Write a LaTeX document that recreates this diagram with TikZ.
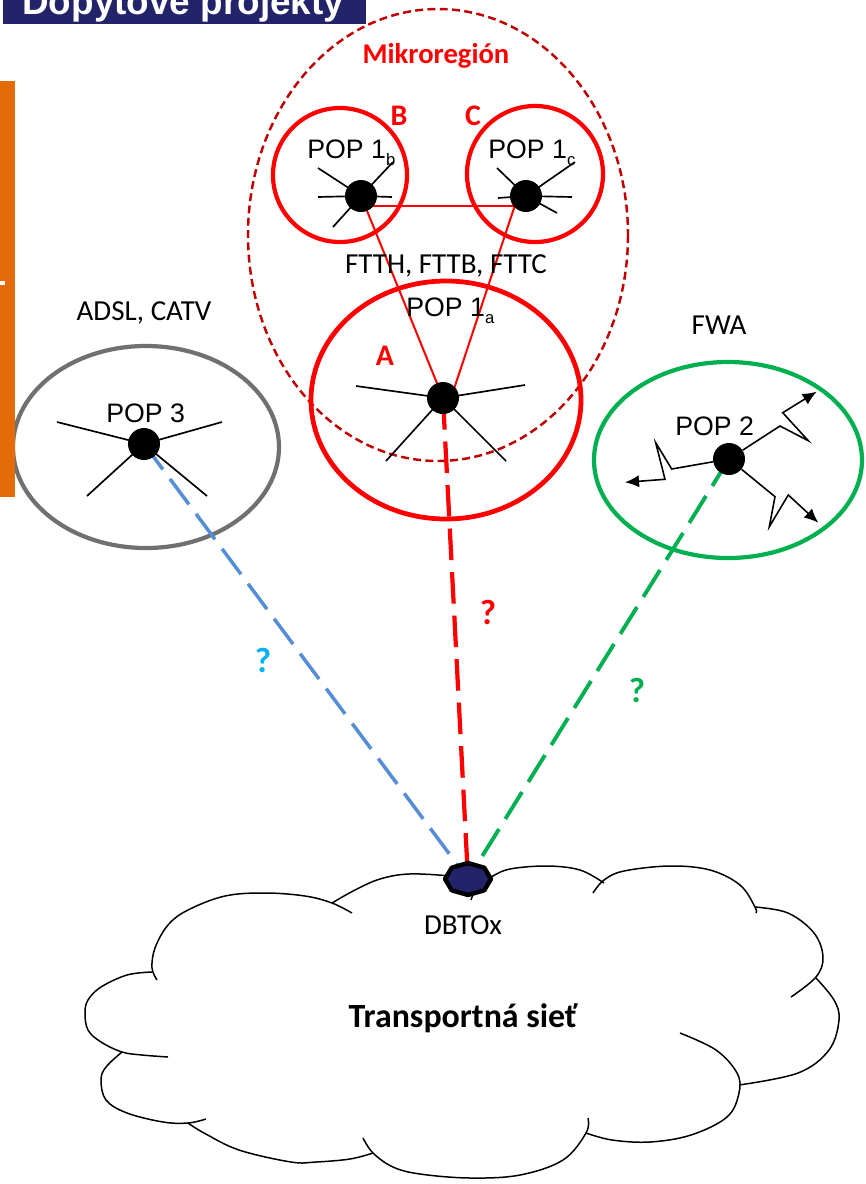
\documentclass[tikz,border=0pt]{standalone}
\usepackage{fontspec}
\setmainfont{Liberation Sans}
\newfontfamily\calfont{Carlito}
\usetikzlibrary{shapes.geometric,arrows.meta,calc,backgrounds}
\definecolor{navy}{RGB}{35,35,105}
\definecolor{orng}{RGB}{227,108,9}
\definecolor{dred}{RGB}{192,0,0}
\definecolor{pred}{RGB}{255,0,0}
\definecolor{pgreen}{RGB}{0,176,80}
\definecolor{pgray}{RGB}{112,112,112}
\definecolor{lblue}{RGB}{85,142,213}
\definecolor{qblue}{RGB}{0,176,240}
\tikzset{
  popdot/.style={circle, fill=black, inner sep=0pt, minimum size=0.64cm},
  spoke/.style={black, line width=0.95pt},
  poptext/.style={font=\fontsize{15.2}{18}\selectfont, inner sep=0pt, anchor=base west},
  caltext/.style={font=\calfont\fontsize{16.5}{20}\selectfont, inner sep=0pt, anchor=base},
  redbold/.style={font=\calfont\bfseries\fontsize{17}{20}\selectfont, text=pred, inner sep=0pt},
  qmark/.style={font=\calfont\bfseries\fontsize{20}{24}\selectfont, inner sep=0pt},
  zone/.style={line width=2.4pt},
  conn/.style={dash pattern=on 18pt off 6.8pt},
  zig/.style={black, line width=0.9pt, line join=miter, -{Latex[length=8pt,width=7pt]}},
  cloudline/.style={black, line width=0.85pt},
  redlink/.style={pred, line width=1.15pt},
}
\newcommand{\subx}[1]{\raisebox{-4.5pt}{\fontsize{9.5}{10}\selectfont #1}}
\begin{document}
\begin{tikzpicture}[x=0.02cm, y=-0.02cm]
\useasboundingbox (0,0) rectangle (866,1184);
% header and side bar
\fill[navy] (3,-30) rectangle (366,24);
\node[font=\bfseries\fontsize{21}{24}\selectfont, text=white, anchor=base west, inner sep=0pt] (header) at (22,14) {Dopytové projekty};
\fill[orng] (0,81) rectangle (15,497);
\fill[white] (0,281) rectangle (4.5,285);

% dots
\node[popdot] (dotB) at (361,196) {};
\node[popdot] (dotC) at (526,196) {};
\node[popdot] (dotA) at (443,398) {};
\node[popdot] (dot3) at (144,444) {};
\node[popdot] (dot2) at (729,459) {};
\node[ellipse, inner sep=0pt, minimum width=0.92cm, minimum height=0.64cm] (dbto) at (468,879) {};

\begin{pgfonlayer}{background}
  % zones
  \draw[dred, line width=1.4pt, dash pattern=on 4.5pt off 2.5pt] (438,235) ellipse [x radius=190, y radius=226];
  \draw[pred, zone] (340,175) circle [radius=67];
  \draw[pred, zone] (535,174) circle [radius=68];
  \draw[pred, line width=2.7pt] (446,400) ellipse [x radius=135, y radius=119];
  \draw[pgray, zone] (146,447) ellipse [x radius=133, y radius=101];
  \draw[pgreen, zone] (728,460) ellipse [x radius=134, y radius=98];
  % cloud
  \draw[cloudline] plot[smooth, tension=0.6] coordinates {(157,980) (152,968) (155,948) (168,925) (188,910) (225,896) (265,893) (305,896) (332,903) (352,913)};
  \draw[cloudline] plot[smooth, tension=0.6] coordinates {(152,972) (127,975) (101,987) (88,1000) (85,1013) (88,1030) (101,1042) (122,1052) (142,1055) (168,1057)};
  \draw[cloudline] plot[smooth, tension=0.6] coordinates {(122,1052) (106,1067) (101,1080) (106,1100) (127,1113) (163,1122) (188,1123) (206,1119)};
  \draw[cloudline] plot[smooth, tension=0.6] coordinates {(188,1123) (204,1133) (239,1150) (291,1162) (316,1162) (350,1159) (373,1153)};
  \draw[cloudline] plot[smooth, tension=0.6] coordinates {(363,1138) (373,1153) (393,1167) (420,1174) (470,1178) (520,1175) (563,1160) (586,1133) (588,1118)};
  \draw[cloudline] plot[smooth, tension=0.6] coordinates {(680,1033) (716,1050) (737,1073) (739,1093) (727,1117) (691,1135) (650,1142) (612,1140) (586,1133)};
  \draw[cloudline] plot[smooth, tension=0.6] coordinates {(739,1085) (798,1073) (829,1050) (839,1020) (834,1000) (816,978)};
  \draw[cloudline] plot[smooth, tension=0.6] coordinates {(755,907) (788,913) (814,933) (823,957) (816,977) (791,997)};
  \draw[cloudline] plot[smooth, tension=0.6] coordinates {(593,893) (604,880) (624,871) (670,866) (710,870) (740,885) (755,907) (756,913)};
  \draw[cloudline] plot[smooth, tension=0.6] coordinates {(604,883) (580,870) (547,866) (510,869) (491,877) (478,885) (471,900)};
  \draw[cloudline] plot[smooth, tension=0.6] coordinates {(470,880) (450,876) (409,874) (380,879) (355,890) (332,903)};
  % links inside micro-region
  \draw[redlink] ($(dotB.center)+(0,10)$) -- ($(dotC.center)+(0,10)$);
  \draw[redlink] (dotB.center) -- (dotA.center);
  \draw[redlink] ($(dotC.center)+(-8,0)$) -- ($(dotA.center)+(8,0)$);
  % spokes
  \draw[spoke] (dotB.center) -- (318,168);
  \draw[spoke] (dotB.center) -- (318,197);
  \draw[spoke] (dotB.center) -- (333,227);
  \draw[spoke] (dotB.center) -- (393,162);
  \draw[spoke] (dotB.center) -- (392,197);
  \draw[spoke] (dotC.center) -- (497,168);
  \draw[spoke] (dotC.center) -- (498,198);
  \draw[spoke] (dotC.center) -- (572,197);
  \draw[spoke] (dotC.center) -- (557,213);
  \draw[spoke] (dotC.center) -- (575,162);
  \draw[spoke] (dotA.center) -- (356,386);
  \draw[spoke] (dotA.center) -- (525,385);
  \draw[spoke] (dotA.center) -- (386,461);
  \draw[spoke] (dotA.center) -- (506,461);
  \draw[spoke] (dot3.center) -- (57,422);
  \draw[spoke] (dot3.center) -- (222,422);
  \draw[spoke] (dot3.center) -- (87,496);
  \draw[spoke] (dot3.center) -- (207,496);
  % connectors to DBTOx
  \draw[conn, lblue, line width=2pt] (dot3.center) -- (dbto);
  \draw[conn, pred, line width=2.4pt] (dotA.center) -- (dbto);
  \draw[conn, pgreen, line width=2.2pt] (dot2.center) -- (dbto);
\end{pgfonlayer}

% DBTOx octagon
\filldraw[fill=navy, draw=black, line width=2.5pt, line join=round] plot[samples at={0,45,...,315}, variable=\t] ({468+23*cos(\t)},{879+16*sin(\t)}) -- cycle;

% wireless arrows
\coordinate (tipA) at (816.7,391.7);
\coordinate (tipB) at (625,482.3);
\coordinate (tipC) at (818.3,522.7);
\draw[zig] (dot2) -- (780,426) -- (808.3,440.7) -- (782.7,412.7) -- (tipA);
\draw[zig] (dot2) -- (671.7,469) -- (655.7,442.7) -- (665,479.3) -- (tipB);
\draw[zig] (dot2) -- (775,496.7) -- (769.3,526.7) -- (788.3,495) -- (tipC);

% texts
\node[font=\calfont\bfseries\fontsize{16.3}{20}\selectfont, text=pred, inner sep=0pt, anchor=base] (mikro) at (436,63) {Mikroregión};
\node[redbold] (labB) at (399,116) {B};
\node[redbold] (labC) at (473,116) {C};
\node[redbold] (labA) at (385,356) {A};
\node[poptext] (pop1b) at (307,158) {POP 1\subx{b}};
\node[poptext] (pop1c) at (488,158) {POP 1\subx{c}};
\node[poptext] (pop1a) at (406,316) {POP 1\subx{a}};
\node[poptext] (pop3) at (106,422) {POP 3};
\node[poptext] (pop2) at (675,435) {POP 2};
\node[caltext] (ftt) at (446,273) {FTTH, FTTB, FTTC};
\node[caltext] (adsl) at (144,320) {ADSL, CATV};
\node[caltext] (fwa) at (719,334) {FWA};
\node[caltext] (dbtotext) at (463,934) {DBTOx};
\node[font=\calfont\bfseries\fontsize{19.3}{23}\selectfont, inner sep=0pt, anchor=base] (transport) at (463,1027) {Transportná sieť};
\node[qmark, text=qblue] (qb) at (263,660) {?};
\node[qmark, text=pred] (qr) at (488,612) {?};
\node[qmark, text=pgreen] (qg) at (637,690) {?};
\end{tikzpicture}
\end{document}
